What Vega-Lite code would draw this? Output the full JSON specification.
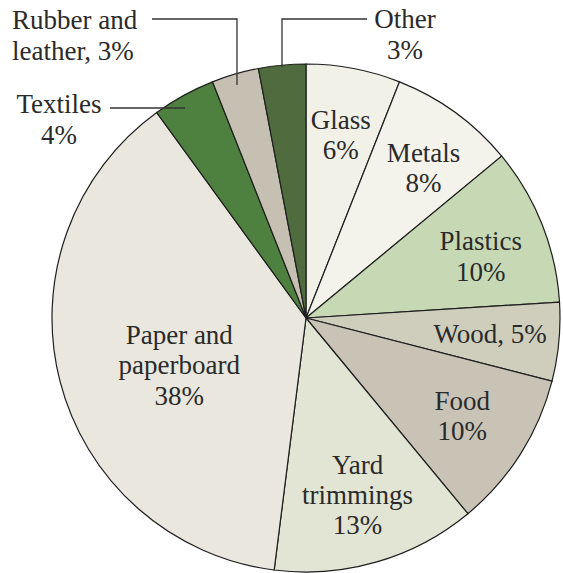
{
  "$schema": "https://vega.github.io/schema/vega-lite/v6.json",
  "width": 514,
  "height": 510,
  "autosize": {"type": "none"},
  "padding": {"left": 49, "top": 63, "right": 0, "bottom": 0},
  "background": "white",
  "config": {"view": {"stroke": null}, "font": "Liberation Serif"},
  "datasets": {
    "waste": [
      {"category": "Glass", "value": 6, "order": 1, "label": "Glass\n6%"},
      {"category": "Metals", "value": 8, "order": 2, "label": "Metals\n8%"},
      {"category": "Plastics", "value": 10, "order": 3, "label": "Plastics\n10%"},
      {"category": "Wood", "value": 5, "order": 4, "label": "Wood, 5%"},
      {"category": "Food", "value": 10, "order": 5, "label": "Food\n10%"},
      {"category": "Yard trimmings", "value": 13, "order": 6, "label": "Yard\ntrimmings\n13%"},
      {"category": "Paper and paperboard", "value": 38, "order": 7, "label": "Paper and\npaperboard\n38%"},
      {"category": "Textiles", "value": 4, "order": 8, "label": "Textiles\n4%"},
      {"category": "Rubber and leather", "value": 3, "order": 9, "label": "Rubber and\nleather, 3%"},
      {"category": "Other", "value": 3, "order": 10, "label": "Other\n3%"}
    ],
    "leaders": [
      {"id": "Rubber", "seq": 1, "x": -0.6063, "y": 1.1772},
      {"id": "Rubber", "seq": 2, "x": -0.2717, "y": 1.1772},
      {"id": "Rubber", "seq": 3, "x": -0.2717, "y": 0.9173},
      {"id": "Other", "seq": 1, "x": 0.2402, "y": 1.1772},
      {"id": "Other", "seq": 2, "x": -0.0945, "y": 1.1772},
      {"id": "Other", "seq": 3, "x": -0.0945, "y": 0.9882},
      {"id": "Textiles", "seq": 1, "x": -0.7717, "y": 0.8268},
      {"id": "Textiles", "seq": 2, "x": -0.4764, "y": 0.8268}
    ],
    "outer": [
      {"id": "Rubber", "x": -1.1575, "y": 1.1378, "label": "Rubber and\nleather, 3%"},
      {"id": "Textiles", "x": -0.9724, "y": 0.8071, "label": "Textiles\n4%"},
      {"id": "Other", "x": 0.3898, "y": 1.1417, "label": "Other\n3%"}
    ]
  },
  "layer": [
    {
      "data": {"name": "waste"},
      "mark": {"type": "arc", "outerRadius": 254, "stroke": "#1e1e1e", "strokeWidth": 1.2},
      "encoding": {
        "theta": {"field": "value", "type": "quantitative", "stack": true},
        "order": {"field": "order", "type": "quantitative"},
        "color": {
          "field": "category",
          "type": "nominal",
          "legend": null,
          "scale": {
            "domain": ["Glass", "Metals", "Plastics", "Wood", "Food", "Yard trimmings", "Paper and paperboard", "Textiles", "Rubber and leather", "Other"],
            "range": ["#f2f1e8", "#f4f3eb", "#c6d9b4", "#cfcebd", "#c9c3b6", "#e3e5d4", "#e9e7de", "#4e803f", "#c5c0b2", "#506c3f"]
          }
        }
      }
    },
    {
      "data": {"name": "waste"},
      "mark": {"type": "text", "radius": 185, "dy": -15, "fontSize": 27, "lineBreak": "\n", "lineHeight": 30, "color": "#2a2a2a", "align": "center", "baseline": "middle"},
      "encoding": {
        "theta": {"field": "value", "type": "quantitative", "stack": true},
        "order": {"field": "order", "type": "quantitative"},
        "text": {"condition": {"test": "datum.order == 1 || datum.order == 5", "field": "label"}, "value": ""}
      }
    },
    {
      "data": {"name": "waste"},
      "mark": {"type": "text", "radius": 195, "dx": 3, "dy": -6, "fontSize": 27, "lineBreak": "\n", "lineHeight": 30, "color": "#2a2a2a", "align": "center", "baseline": "middle"},
      "encoding": {
        "theta": {"field": "value", "type": "quantitative", "stack": true},
        "order": {"field": "order", "type": "quantitative"},
        "text": {"condition": {"test": "datum.order == 2", "field": "label"}, "value": ""}
      }
    },
    {
      "data": {"name": "waste"},
      "mark": {"type": "text", "radius": 188, "dy": -7, "fontSize": 27, "lineBreak": "\n", "lineHeight": 31, "color": "#2a2a2a", "align": "center", "baseline": "middle"},
      "encoding": {
        "theta": {"field": "value", "type": "quantitative", "stack": true},
        "order": {"field": "order", "type": "quantitative"},
        "text": {"condition": {"test": "datum.order == 3", "field": "label"}, "value": ""}
      }
    },
    {
      "data": {"name": "waste"},
      "mark": {"type": "text", "radius": 185, "fontSize": 27, "color": "#2a2a2a", "align": "center", "baseline": "middle"},
      "encoding": {
        "theta": {"field": "value", "type": "quantitative", "stack": true},
        "order": {"field": "order", "type": "quantitative"},
        "text": {"condition": {"test": "datum.order == 4", "field": "label"}, "value": ""}
      }
    },
    {
      "data": {"name": "waste"},
      "mark": {"type": "text", "radius": 185, "dy": -30, "fontSize": 27, "lineBreak": "\n", "lineHeight": 30, "color": "#2a2a2a", "align": "center", "baseline": "middle"},
      "encoding": {
        "theta": {"field": "value", "type": "quantitative", "stack": true},
        "order": {"field": "order", "type": "quantitative"},
        "text": {"condition": {"test": "datum.order == 6", "field": "label"}, "value": ""}
      }
    },
    {
      "data": {"name": "waste"},
      "mark": {"type": "text", "radius": 136, "dx": 5, "dy": -16, "fontSize": 27, "lineBreak": "\n", "lineHeight": 30.5, "color": "#2a2a2a", "align": "center", "baseline": "middle"},
      "encoding": {
        "theta": {"field": "value", "type": "quantitative", "stack": true},
        "order": {"field": "order", "type": "quantitative"},
        "text": {"condition": {"test": "datum.order == 7", "field": "label"}, "value": ""}
      }
    },
    {
      "data": {"name": "leaders"},
      "mark": {"type": "line", "color": "#333333", "strokeWidth": 1.3},
      "encoding": {
        "x": {"field": "x", "type": "quantitative", "scale": {"domain": [-1.0118, 1.0118], "nice": false, "zero": false}, "axis": null},
        "y": {"field": "y", "type": "quantitative", "scale": {"domain": [-1.0039, 1.0039], "nice": false, "zero": false}, "axis": null},
        "detail": {"field": "id", "type": "nominal"},
        "order": {"field": "seq", "type": "quantitative"}
      }
    },
    {
      "data": {"name": "outer"},
      "transform": [{"filter": "datum.id != 'Rubber'"}],
      "mark": {"type": "text", "fontSize": 27, "lineBreak": "\n", "lineHeight": 31, "color": "#2a2a2a", "align": "center", "baseline": "alphabetic"},
      "encoding": {
        "x": {"field": "x", "type": "quantitative"},
        "y": {"field": "y", "type": "quantitative"},
        "text": {"field": "label"}
      }
    },
    {
      "data": {"name": "outer"},
      "transform": [{"filter": "datum.id == 'Rubber'"}],
      "mark": {"type": "text", "fontSize": 27, "lineBreak": "\n", "lineHeight": 31, "color": "#2a2a2a", "align": "left", "baseline": "alphabetic"},
      "encoding": {
        "x": {"field": "x", "type": "quantitative"},
        "y": {"field": "y", "type": "quantitative"},
        "text": {"field": "label"}
      }
    }
  ]
}
